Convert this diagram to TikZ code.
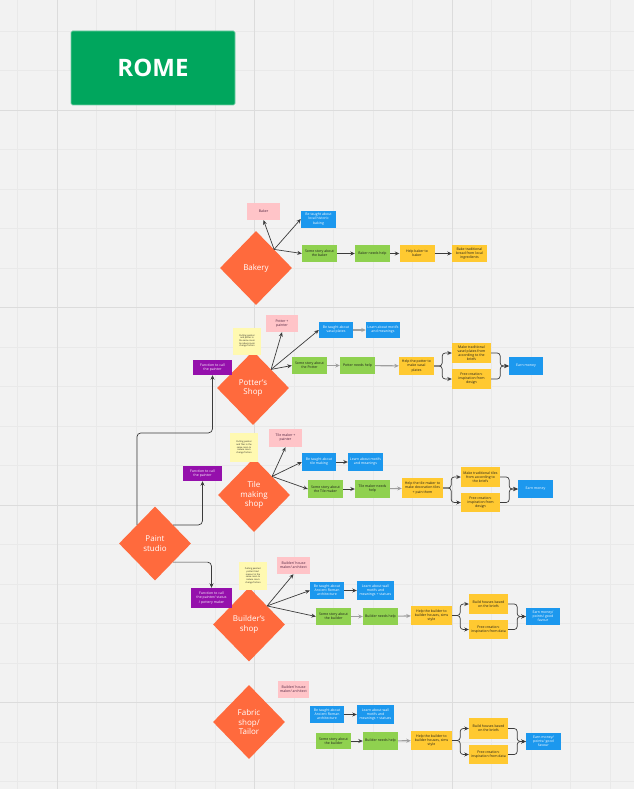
\documentclass[tikz,border=0pt]{standalone}
\usepackage{fontspec}
\setmainfont{Open Sans}
\usetikzlibrary{shapes.geometric,arrows.meta}
\definecolor{bgcol}{HTML}{F2F2F2}
\definecolor{minorcol}{HTML}{E9E9E9}
\definecolor{majorcol}{HTML}{DCDCDC}
\definecolor{titlecol}{HTML}{00A65D}
\definecolor{shopcol}{HTML}{FF6A3D}
\definecolor{pinkcol}{HTML}{FFC4C8}
\definecolor{pinktext}{HTML}{4B1F3C}
\definecolor{bluecol}{HTML}{1C98EE}
\definecolor{greencol}{HTML}{8FD14F}
\definecolor{yellowcol}{HTML}{FFC931}
\definecolor{purplecol}{HTML}{9510AC}
\definecolor{stickycol}{HTML}{FFF9B1}
\definecolor{darktext}{HTML}{1A1A1A}
\definecolor{linkcol}{HTML}{3C3C3C}

\begin{document}
\begin{tikzpicture}[x=1pt, y=-1pt, >={Stealth[length=4.5pt,width=4pt]},
    every node/.style={font=\fontsize{3.5}{4.1}\selectfont, align=center, inner sep=0.5pt},
    card/.style={rectangle, minimum width=35, minimum height=17},
    shop/.style={diamond, fill=shopcol, text=white, minimum width=72, minimum height=74, inner sep=0pt, font=\fontsize{8}{9.6}\selectfont},
    pinkcard/.style={card, fill=pinkcol, text=pinktext},
    bluecard/.style={card, fill=bluecol, text=white},
    greencard/.style={card, fill=greencol, text=darktext},
    yellowcard/.style={card, fill=yellowcol, text=darktext},
    purplecard/.style={card, fill=purplecol, text=white, minimum width=39, minimum height=15},
    sticky/.style={rectangle, fill=stickycol, text=darktext, minimum width=28, minimum height=27, font=\fontsize{2.2}{2.7}\selectfont},
    link/.style={->, draw=linkcol, line width=0.7pt},
    softlink/.style={->, draw=gray!75, line width=1.1pt},
    fork/.style={link, rounded corners=3pt}]
    \fill[bgcol] (0,0) rectangle (634,789);
    \useasboundingbox (0,0) rectangle (634,789);
    \foreach \gx in {17.5,57,...,630} \draw[minorcol, line width=0.6pt] (\gx,0) -- (\gx,789);
    \foreach \gy in {31,70.5,...,789} \draw[minorcol, line width=0.6pt] (0,\gy) -- (634,\gy);
    \foreach \gx in {57,254.5,452} \draw[majorcol, line width=0.9pt] (\gx,0) -- (\gx,789);
    \foreach \gy in {110,307.5,505,702.5} \draw[majorcol, line width=0.9pt] (0,\gy) -- (634,\gy);

    \node[rectangle, fill=titlecol, draw=titlecol!55!white, line width=0.6pt, rounded corners=1.5pt, minimum width=164, minimum height=74, text=white, font=\bfseries\fontsize{24}{28}\selectfont] (rome) at (153,68) {ROME};

    \node[shop] (bakery) at (256,268) {Bakery};
    \node[pinkcard, minimum width=33] (baker) at (263.5,211.5) {Baker};
    \node[bluecard] (bak-taught) at (318.5,219) {Be taught about\\local historic\\baking};
    \node[greencard] (bak-story) at (319.5,253.5) {Some story about\\the baker};
    \node[greencard] (bak-need) at (372.5,253.5) {Baker needs help};
    \node[yellowcard] (bak-help) at (417,253.5) {Help baker to\\baker};
    \node[yellowcard] (bak-bread) at (469.5,253.5) {Bake traditional\\bread from local\\ingredients};
    \draw[link] (bakery.north east) -- (baker.south);
    \draw[link] (bakery.north east) -- (bak-taught.west);
    \draw[link] (bakery.north east) -- (bak-story.west);
    \draw[link] (bak-story) -- (bak-need);
    \draw[link] (bak-need) -- (bak-help);
    \draw[link] (bak-help) -- (bak-bread);

    \node[shop] (potter) at (253,388) {Potter's\\Shop};
    \node[sticky] (pot-note) at (247,341) {Putting painter\\and potter in\\the same room\\to reduce room\\change friction};
    \node[pinkcard, minimum width=32] (pot-role) at (282,323.5) {Potter +\\painter};
    \node[purplecard] (pot-call) at (212.5,367.5) {Function to call\\the painter};
    \node[bluecard, minimum width=34, minimum height=16] (pot-taught) at (336,330) {Be taught about\\vasal plates};
    \node[bluecard, minimum width=34, minimum height=16] (pot-learn) at (383,330) {Learn about motifs\\and meanings};
    \node[greencard] (pot-story) at (309.5,365.5) {Some story about\\the Potter};
    \node[greencard] (pot-need) at (357.5,365.5) {Potter needs help};
    \node[yellowcard, minimum height=18] (pot-help) at (416.5,366) {Help the potter to\\make vasal\\plates};
    \node[yellowcard, minimum width=39, minimum height=20] (pot-trad) at (471.5,353) {Make traditional\\vasel plates from\\according to the\\briefs};
    \node[yellowcard, minimum width=39, minimum height=20] (pot-free) at (471.5,379) {Free creation:\\inspiration from\\design};
    \node[bluecard, minimum width=34, minimum height=18] (pot-earn) at (526,366) {Earn money};
    \draw[link] (potter.north east) -- (pot-role.south);
    \draw[link] (potter.north east) -- (pot-taught.west);
    \draw[link] (potter.north east) -- (pot-story.west);
    \draw[softlink] (pot-taught) -- (pot-learn);
    \draw[softlink] (pot-story) -- (pot-need);
    \draw[softlink] (pot-need) -- (pot-help);
    \draw[fork] (pot-help.east) -- ++(8,0) |- (pot-trad.west);
    \draw[fork] (pot-help.east) -- ++(8,0) |- (pot-free.west);
    \draw[fork] (pot-trad.east) -- ++(9,0) |- (pot-earn.west);
    \draw[fork] (pot-free.east) -- ++(9,0) |- (pot-earn.west);

    \node[shop] (tile) at (254,495) {Tile\\making\\shop};
    \node[sticky, minimum height=29] (tile-note) at (244,447.5) {Putting painter\\and Tiler in the\\same room to\\reduce room\\change friction};
    \node[pinkcard, minimum width=33, minimum height=18] (tile-role) at (285.5,438) {Tile maker +\\painter};
    \node[purplecard] (tile-call) at (202.5,473.5) {Function to call\\the painter};
    \node[bluecard, minimum width=34, minimum height=18] (tile-taught) at (319,462) {Be taught about\\tile making};
    \node[bluecard, minimum height=18] (tile-learn) at (365.5,462) {Learn about motifs\\and meanings};
    \node[greencard, minimum height=18] (tile-story) at (325.5,489) {Some story about\\the Tile maker};
    \node[greencard, minimum height=18] (tile-need) at (372.5,489) {Tile maker needs\\help};
    \node[yellowcard, minimum width=41, minimum height=20] (tile-help) at (422.5,488) {Help the tile maker to\\make decoration tiles\\+ pain them};
    \node[yellowcard, minimum width=39, minimum height=20] (tile-trad) at (480.5,477) {Make traditional tiles\\from according to\\the briefs};
    \node[yellowcard, minimum width=39, minimum height=19] (tile-free) at (480.5,502.5) {Free creation:\\inspiration from\\design};
    \node[bluecard, minimum height=18] (tile-earn) at (535.5,489) {Earn money};
    \draw[link] (tile.north east) -- (tile-role.south);
    \draw[link] (tile.north east) -- (tile-taught.west);
    \draw[link] (tile.north east) -- (tile-story.west);
    \draw[link] (tile-taught) -- (tile-learn);
    \draw[link] (tile-story) -- (tile-need);
    \draw[softlink] (tile-need) -- (tile-help);
    \draw[fork] (tile-help.east) -- ++(8,0) |- (tile-trad.west);
    \draw[fork] (tile-help.east) -- ++(8,0) |- (tile-free.west);
    \draw[fork] (tile-trad.east) -- ++(9,0) |- (tile-earn.west);
    \draw[fork] (tile-free.east) -- ++(9,0) |- (tile-earn.west);

    \node[shop] (paint) at (155,543.5) {Paint\\studio};
    \draw[link, rounded corners=4pt] (paint.north west) -- ++(0,-92) -| (pot-call.south);
    \draw[link, rounded corners=4pt] (paint.north east) -| (tile-call.south);

    \node[shop] (builder) at (249,624.5) {Builder's\\shop};
    \node[sticky, minimum height=28] (bld-note) at (253,576) {Putting painter/\\potter/ tiler/\\mason/ in the\\same room to\\reduce room\\change friction};
    \node[pinkcard, minimum width=33] (bld-role) at (293.5,565.5) {Builder/ house\\maker/ architect};
    \node[purplecard, minimum width=41, minimum height=20] (bld-call) at (211.5,598) {Function to call\\the painter/ status\\/ pottery maker};
    \node[bluecard, minimum width=34] (bld-taught) at (327,590.5) {Be taught about\\Ancient Roman\\architecture};
    \node[bluecard, minimum width=37, minimum height=19] (bld-learn) at (375.5,590.5) {Learn about wall\\motifs and\\meanings + statues};
    \node[greencard] (bld-story) at (333.5,616.5) {Some story about\\the builder};
    \node[greencard] (bld-need) at (380.5,616.5) {Builder needs help};
    \node[yellowcard, minimum width=41, minimum height=19] (bld-help) at (431.5,615.5) {Help the builder to\\builder houses, sims\\style};
    \node[yellowcard, minimum width=39, minimum height=20] (bld-trad) at (488.5,604) {Build houses based\\on the briefs};
    \node[yellowcard, minimum width=39, minimum height=19] (bld-free) at (488.5,629.5) {Free creation:\\inspiration from data};
    \node[bluecard, minimum width=34] (bld-earn) at (543,616.5) {Earn money/\\points/ good\\favour};
    \draw[link, rounded corners=4pt] (paint.south east) -| (bld-call.north);
    \draw[link] (builder.north east) -- (bld-role.south);
    \draw[link] (builder.north east) -- (bld-taught.west);
    \draw[link] (builder.north east) -- (bld-story.west);
    \draw[link] (bld-taught) -- (bld-learn);
    \draw[softlink] (bld-story) -- (bld-need);
    \draw[softlink] (bld-need) -- (bld-help);
    \draw[fork] (bld-help.east) -- ++(8,0) |- (bld-trad.west);
    \draw[fork] (bld-help.east) -- ++(8,0) |- (bld-free.west);
    \draw[fork] (bld-trad.east) -- ++(9,0) |- (bld-earn.west);
    \draw[fork] (bld-free.east) -- ++(9,0) |- (bld-earn.west);

    \node[shop] (fabric) at (249,722) {Fabric\\shop/\\Tailor};
    \node[pinkcard, minimum width=31] (fab-role) at (293.5,689.5) {Builder/ house\\maker/ architect};
    \node[bluecard, minimum width=34] (fab-taught) at (327,714.5) {Be taught about\\Ancient Roman\\architecture};
    \node[bluecard, minimum width=37, minimum height=19] (fab-learn) at (375.5,714.5) {Learn about wall\\motifs and\\meanings + statues};
    \node[greencard, minimum height=16] (fab-story) at (333.5,741) {Some story about\\the builder};
    \node[greencard, minimum height=18] (fab-need) at (380.5,741) {Builder needs help};
    \node[yellowcard, minimum width=41, minimum height=19] (fab-help) at (431.5,740.5) {Help the builder to\\builder houses, sims\\style};
    \node[yellowcard, minimum width=39, minimum height=21] (fab-trad) at (488.5,728.5) {Build houses based\\on the briefs};
    \node[yellowcard, minimum width=39, minimum height=19] (fab-free) at (488.5,754.5) {Free creation:\\inspiration from data};
    \node[bluecard] (fab-earn) at (543.5,741.5) {Earn money/\\points/ good\\favour};
    \draw[link] (fab-taught) -- (fab-learn);
    \draw[link] (fab-story) -- (fab-need);
    \draw[softlink] (fab-need) -- (fab-help);
    \draw[fork] (fab-help.east) -- ++(8,0) |- (fab-trad.west);
    \draw[fork] (fab-help.east) -- ++(8,0) |- (fab-free.west);
    \draw[fork] (fab-trad.east) -- ++(9,0) |- (fab-earn.west);
    \draw[fork] (fab-free.east) -- ++(9,0) |- (fab-earn.west);
\end{tikzpicture}
\end{document}
